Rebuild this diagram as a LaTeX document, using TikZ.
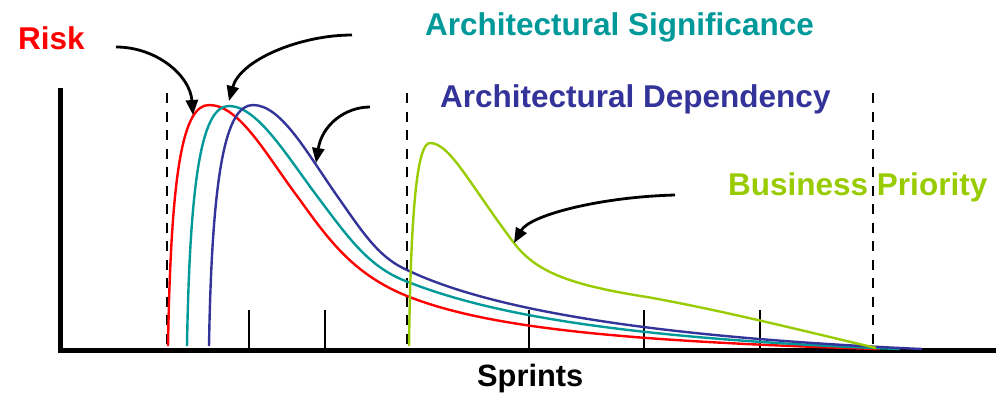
\documentclass[tikz,border=0pt]{standalone}
\usepackage{fontspec}
\setmainfont{Liberation Sans}
\usetikzlibrary{arrows.meta}

\definecolor{riskred}{RGB}{255,0,0}
\definecolor{sigteal}{RGB}{0,153,153}
\definecolor{depblue}{RGB}{51,51,153}
\definecolor{bizgreen}{RGB}{153,204,0}

\begin{document}
\begin{tikzpicture}[x=1pt,y=-1pt,
    lbl/.style={anchor=base west,inner sep=0pt,font=\fontsize{31.5}{36}\selectfont\bfseries},
    curve/.style={line width=2.4pt},
    pointer/.style={line width=2.8pt,-{Triangle[length=15pt,width=12pt]}},
    phase/.style={dash pattern=on 10pt off 8.5pt,line width=2.8pt}]
    \useasboundingbox (0,0) rectangle (996,394);

    % labels
    \node[lbl,riskred] (risk) at (18,49) {Risk};
    \node[lbl,sigteal] (sig) at (425,35) {Architectural Significance};
    \node[lbl,depblue] (dep) at (440,107) {Architectural Dependency};
    \node[lbl,bizgreen] (biz) at (728,195) {Business Priority};
    \node[lbl,font=\fontsize{30.8}{36}\selectfont\bfseries] (sprints) at (477,386) {Sprints};

    % phase boundaries
    \foreach \x in {167,407,873}
        \draw[phase] (\x,93) -- (\x,346);

    % sprint ticks
    \foreach \x in {249,325,529,644,760}
        \draw[line width=2.6pt] (\x,310) -- (\x,348);

    % axes
    \draw[line width=5pt] (60,88) -- (60,350.5) -- (996,350.5);

    % curves
    \draw[curve,riskred] (168,346) .. controls (171,170) and (183,105) .. (209,105)
        .. controls (240,105) and (266,155) .. (300,200)
        .. controls (330,242) and (355,275) .. (407,296)
        .. controls (480,325) and (600,341) .. (880,349);
    \draw[curve,sigteal] (187,346) .. controls (190,170) and (203,106) .. (229,106)
        .. controls (258,106) and (288,158) .. (320,200)
        .. controls (350,240) and (370,268) .. (408,282)
        .. controls (480,310) and (600,338) .. (900,349);
    \draw[curve,depblue] (209,346) .. controls (212,170) and (226,105) .. (253,105)
        .. controls (282,105) and (308,155) .. (340,200)
        .. controls (365,236) and (380,258) .. (407,270)
        .. controls (470,300) and (600,335) .. (922,349);
    \draw[curve,bizgreen] (409,346) .. controls (411,200) and (418,143) .. (430,143)
        .. controls (450,143) and (470,185) .. (514,243)
        .. controls (536,272) and (570,285) .. (647,297)
        .. controls (720,310) and (800,330) .. (876,348);

    % arrow ends
    \coordinate (risk-from) at (116,47);
    \coordinate (risk-to) at (193,115);
    \coordinate (sig-from) at (352,35);
    \coordinate (sig-to) at (229,101);
    \coordinate (dep-from) at (370,107);
    \coordinate (dep-to) at (316,163);
    \coordinate (biz-from) at (675,195);
    \coordinate (biz-to) at (514,243);

    \draw[pointer] (risk-from) .. controls (156,47) and (190,75) .. (risk-to);
    \draw[pointer] (sig-from) .. controls (300,35) and (240,60) .. (sig-to);
    \draw[pointer] (dep-from) .. controls (345,107) and (322,125) .. (dep-to);
    \draw[pointer] (biz-from) .. controls (600,197) and (530,215) .. (biz-to);
\end{tikzpicture}
\end{document}
